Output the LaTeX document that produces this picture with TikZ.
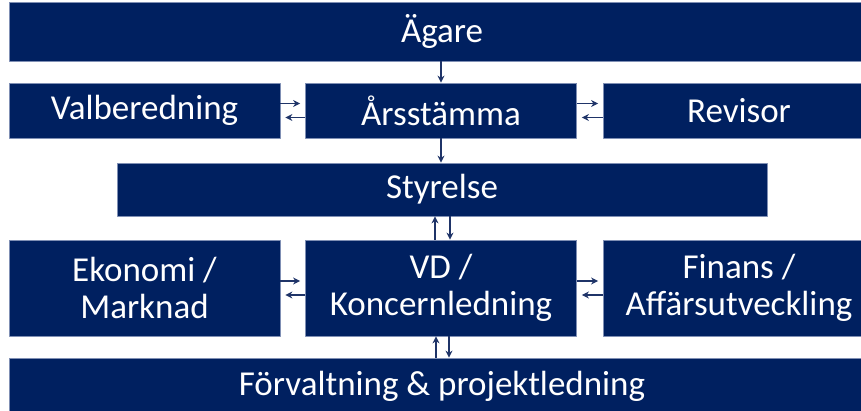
\documentclass[tikz,border=0pt]{standalone}
\usepackage{fontspec}
\setmainfont{Carlito}
\usetikzlibrary{arrows.meta}
\definecolor{morkbla}{HTML}{002060}
\definecolor{kant}{HTML}{7F8FB4}
\definecolor{pilfarg}{HTML}{1F3468}
\tikzset{
	ruta/.style={fill=morkbla, draw=kant, line width=.8pt, text=white, align=center, inner sep=0pt,
		font=\fontsize{35}{37}\selectfont},
	pil/.style={->, draw=pilfarg, line width=1.1pt}
}
\begin{document}
\begin{tikzpicture}[x=1pt, y=-1pt, line join=round, >={Stealth[length=7pt,width=7pt]}]
		\useasboundingbox (0,0) rectangle (861,410);
		\clip (0,0) rectangle (861,410);
		\def\bred{271} % kolumnbredd
		% rad 1
		\node[ruta, minimum width=866, minimum height=59] (ag) at (442,31.5) {Ägare};
		% rad 2
		\node[ruta, minimum width=\bred, minimum height=55] (val) at (144.5,110.5) {Valberedning};
		\node[ruta, minimum width=\bred, minimum height=55] (ars) at (441,110.5) {Årsstämma};
		\node[ruta, minimum width=\bred, minimum height=55] (rev) at (739,110.5) {Revisor};
		% rad 3
		\node[ruta, minimum width=650, minimum height=53] (sty) at (442,189.5) {Styrelse};
		% rad 4
		\node[ruta, minimum width=\bred, minimum height=96] (eko) at (144.5,288) {Ekonomi /\\Marknad};
		\node[ruta, minimum width=\bred, minimum height=96] (vd) at (441,288) {VD /\\Koncernledning};
		\node[ruta, minimum width=\bred, minimum height=96] (fin) at (739,288) {Finans /\\Affärsutveckling};
		% rad 5
		\node[ruta, minimum width=866, minimum height=56] (forv) at (442,386) {Förvaltning \& projektledning};
		% pilar
		\draw[pil] (ag.south -| ars.north) -- (ars.north);
		\draw[pil] (ars.south) -- (ars.south |- sty.north);
		\foreach \a/\b in {val/ars, eko/vd} {
			\draw[pil, shorten >=5pt] ([yshift=7pt]\a.east) -- ([yshift=7pt]\a.east -| \b.west);
			\draw[pil, shorten >=5pt] ([yshift=-7pt]\b.west) -- ([yshift=-7pt]\b.west -| \a.east);
		}
		\foreach \a/\b in {ars/rev, vd/fin} {
			\draw[pil, shorten >=5pt] ([yshift=7pt]\a.east) -- ([yshift=7pt]\a.east -| \b.west);
			\draw[pil, shorten >=5pt] ([yshift=-7pt]\b.west) -- ([yshift=-7pt]\b.west -| \a.east);
		}
		\foreach \a/\b in {vd/sty, forv/vd} {
			\draw[pil] ([xshift=-6pt]\a.north |- \a.north) -- ([xshift=-6pt]\a.north |- \b.south);
			\draw[pil] ([xshift=8pt]\b.south |- \b.south) -- ([xshift=8pt]\b.south |- \a.north);
		}
\end{tikzpicture}
\end{document}
